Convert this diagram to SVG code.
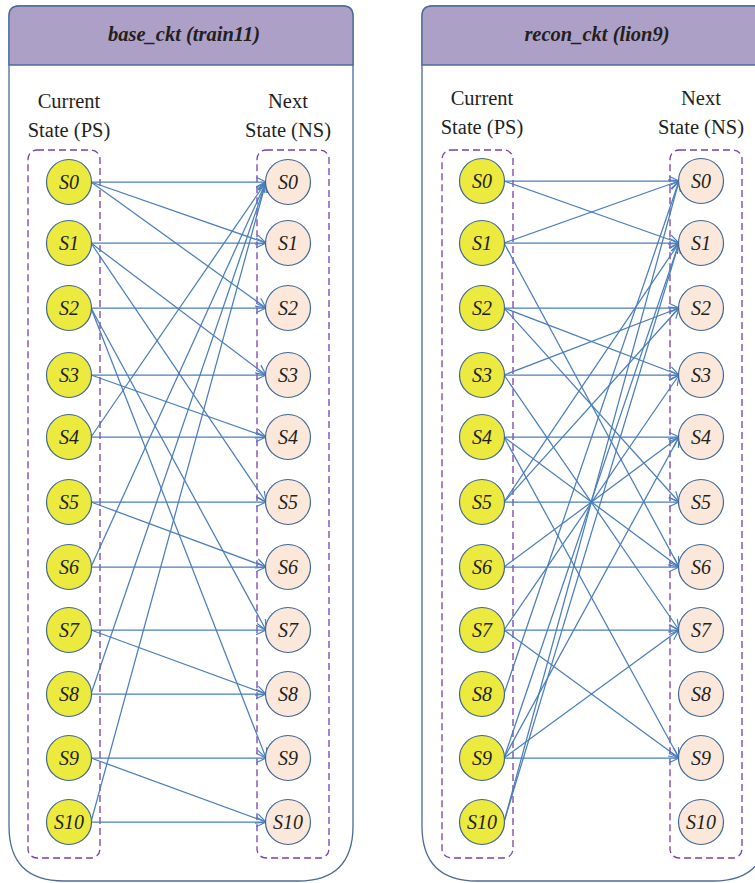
<svg xmlns="http://www.w3.org/2000/svg" width="755" height="883" viewBox="0 0 755 883">
  <style>
    .panel { fill: #ffffff; stroke: #4a6b9a; stroke-width: 1.3; }
    .header { fill: #ada0c6; stroke: #4a6b9a; stroke-width: 1.3; }
    .title { font-family: "Liberation Serif", serif; font-size: 20.5px; font-weight: bold; font-style: italic; fill: #231f20; text-anchor: middle; }
    .label { font-family: "Liberation Serif", serif; font-size: 20.5px; fill: #231f20; text-anchor: middle; }
    .group { fill: none; stroke: #7a3fa8; stroke-width: 1.3; stroke-dasharray: 7 4; }
    .ps { fill: #ece93f; stroke: #3f6794; stroke-width: 1.2; }
    .ns { fill: #fbe8da; stroke: #3f6794; stroke-width: 1.2; }
    .st { font-family: "Liberation Serif", serif; font-size: 20px; font-style: italic; fill: #231f20; text-anchor: middle; }
    .edge { stroke: #4a7ebb; stroke-width: 1.25; fill: none; marker-end: url(#arr); }
  </style>
  <defs>
    <marker id="arr" markerUnits="userSpaceOnUse" viewBox="-12 -7 14 14" markerWidth="14" markerHeight="14" refX="0" refY="0" orient="auto">
      <path d="M-10,-4.8 L0,0 L-10,4.8" fill="none" stroke="#4a7ebb" stroke-width="1.2"/>
    </marker>
  </defs>

  <!-- panel outlines -->
  <g id="panel-base">
    <path class="panel" d="M19,6 H343 Q353,6 353,16 V826 Q353,881 298,881 H64 Q9,881 9,826 V16 Q9,6 19,6 Z"/>
    <path class="header" d="M19,6 H343 Q353,6 353,16 V65 H9 V16 Q9,6 19,6 Z"/>
    <text class="title" x="184" y="41">base_ckt (train11)</text>
    <text class="label" x="69" y="108">Current</text>
    <text class="label" x="69" y="137">State (PS)</text>
    <text class="label" x="288" y="108">Next</text>
    <text class="label" x="288" y="137">State (NS)</text>
    <rect class="group" x="28" y="150" width="72" height="708" rx="9"/>
    <rect class="group" x="257" y="150" width="72" height="708" rx="9"/>
  </g>
  <g id="panel-recon">
    <path class="panel" d="M432,6 H758 Q768,6 768,16 V826 Q768,881 713,881 H477 Q422,881 422,826 V16 Q422,6 432,6 Z"/>
    <path class="header" d="M432,6 H758 Q768,6 768,16 V65 H422 V16 Q422,6 432,6 Z"/>
    <text class="title" x="597" y="41">recon_ckt (lion9)</text>
    <text class="label" x="482" y="105">Current</text>
    <text class="label" x="482" y="134">State (PS)</text>
    <text class="label" x="701" y="105">Next</text>
    <text class="label" x="701" y="134">State (NS)</text>
    <rect class="group" x="442" y="150" width="71" height="708" rx="9"/>
    <rect class="group" x="670" y="150" width="72" height="708" rx="9"/>
  </g>

  <!-- transitions: base_ckt -->
  <g id="edges-base">
    <line class="edge" x1="91" y1="182" x2="266" y2="182"/>
    <line class="edge" x1="91" y1="182" x2="266" y2="243"/>
    <line class="edge" x1="91" y1="182" x2="266" y2="308"/>
    <line class="edge" x1="91" y1="243" x2="266" y2="243"/>
    <line class="edge" x1="91" y1="243" x2="266" y2="375"/>
    <line class="edge" x1="91" y1="243" x2="266" y2="502"/>
    <line class="edge" x1="91" y1="308" x2="266" y2="308"/>
    <line class="edge" x1="91" y1="308" x2="266" y2="630"/>
    <line class="edge" x1="91" y1="308" x2="266" y2="758"/>
    <line class="edge" x1="91" y1="375" x2="266" y2="375"/>
    <line class="edge" x1="91" y1="375" x2="266" y2="437"/>
    <line class="edge" x1="91" y1="437" x2="266" y2="437"/>
    <line class="edge" x1="91" y1="437" x2="266" y2="182"/>
    <line class="edge" x1="91" y1="502" x2="266" y2="502"/>
    <line class="edge" x1="91" y1="502" x2="266" y2="567"/>
    <line class="edge" x1="91" y1="567" x2="266" y2="567"/>
    <line class="edge" x1="91" y1="567" x2="266" y2="182"/>
    <line class="edge" x1="91" y1="630" x2="266" y2="630"/>
    <line class="edge" x1="91" y1="630" x2="266" y2="694"/>
    <line class="edge" x1="91" y1="694" x2="266" y2="694"/>
    <line class="edge" x1="91" y1="694" x2="266" y2="182"/>
    <line class="edge" x1="91" y1="758" x2="266" y2="758"/>
    <line class="edge" x1="91" y1="758" x2="266" y2="822"/>
    <line class="edge" x1="91" y1="822" x2="266" y2="822"/>
    <line class="edge" x1="91" y1="822" x2="266" y2="182"/>
  </g>

  <!-- transitions: recon_ckt -->
  <g id="edges-recon">
    <line class="edge" x1="504" y1="181" x2="679" y2="181"/>
    <line class="edge" x1="504" y1="181" x2="679" y2="243"/>
    <line class="edge" x1="504" y1="243" x2="679" y2="181"/>
    <line class="edge" x1="504" y1="243" x2="679" y2="243"/>
    <line class="edge" x1="504" y1="243" x2="679" y2="567"/>
    <line class="edge" x1="504" y1="308" x2="679" y2="308"/>
    <line class="edge" x1="504" y1="308" x2="679" y2="375"/>
    <line class="edge" x1="504" y1="308" x2="679" y2="502"/>
    <line class="edge" x1="504" y1="375" x2="679" y2="308"/>
    <line class="edge" x1="504" y1="375" x2="679" y2="375"/>
    <line class="edge" x1="504" y1="375" x2="679" y2="630"/>
    <line class="edge" x1="504" y1="437" x2="679" y2="437"/>
    <line class="edge" x1="504" y1="437" x2="679" y2="567"/>
    <line class="edge" x1="504" y1="437" x2="679" y2="758"/>
    <line class="edge" x1="504" y1="502" x2="679" y2="502"/>
    <line class="edge" x1="504" y1="502" x2="679" y2="243"/>
    <line class="edge" x1="504" y1="502" x2="679" y2="308"/>
    <line class="edge" x1="504" y1="567" x2="679" y2="567"/>
    <line class="edge" x1="504" y1="567" x2="679" y2="437"/>
    <line class="edge" x1="504" y1="630" x2="679" y2="630"/>
    <line class="edge" x1="504" y1="630" x2="679" y2="375"/>
    <line class="edge" x1="504" y1="630" x2="679" y2="758"/>
    <line class="edge" x1="504" y1="694" x2="679" y2="181"/>
    <line class="edge" x1="504" y1="758" x2="679" y2="758"/>
    <line class="edge" x1="504" y1="758" x2="679" y2="630"/>
    <line class="edge" x1="504" y1="758" x2="679" y2="437"/>
    <line class="edge" x1="504" y1="758" x2="679" y2="243"/>
    <line class="edge" x1="504" y1="822" x2="679" y2="181"/>
    <line class="edge" x1="504" y1="822" x2="679" y2="243"/>
  </g>

  <!-- base_ckt present states -->
  <g id="b-ps0"><circle class="ps" cx="69" cy="182" r="22.5"/><text class="st" x="69" y="189">S0</text></g>
  <g id="b-ps1"><circle class="ps" cx="69" cy="243" r="22.5"/><text class="st" x="69" y="250">S1</text></g>
  <g id="b-ps2"><circle class="ps" cx="69" cy="308" r="22.5"/><text class="st" x="69" y="315">S2</text></g>
  <g id="b-ps3"><circle class="ps" cx="69" cy="375" r="22.5"/><text class="st" x="69" y="382">S3</text></g>
  <g id="b-ps4"><circle class="ps" cx="69" cy="437" r="22.5"/><text class="st" x="69" y="444">S4</text></g>
  <g id="b-ps5"><circle class="ps" cx="69" cy="502" r="22.5"/><text class="st" x="69" y="509">S5</text></g>
  <g id="b-ps6"><circle class="ps" cx="69" cy="567" r="22.5"/><text class="st" x="69" y="574">S6</text></g>
  <g id="b-ps7"><circle class="ps" cx="69" cy="630" r="22.5"/><text class="st" x="69" y="637">S7</text></g>
  <g id="b-ps8"><circle class="ps" cx="69" cy="694" r="22.5"/><text class="st" x="69" y="701">S8</text></g>
  <g id="b-ps9"><circle class="ps" cx="69" cy="758" r="22.5"/><text class="st" x="69" y="765">S9</text></g>
  <g id="b-ps10"><circle class="ps" cx="69" cy="822" r="22.5"/><text class="st" x="69" y="829">S10</text></g>
  <!-- base_ckt next states -->
  <g id="b-ns0"><circle class="ns" cx="288" cy="182" r="22.5"/><text class="st" x="288" y="189">S0</text></g>
  <g id="b-ns1"><circle class="ns" cx="288" cy="243" r="22.5"/><text class="st" x="288" y="250">S1</text></g>
  <g id="b-ns2"><circle class="ns" cx="288" cy="308" r="22.5"/><text class="st" x="288" y="315">S2</text></g>
  <g id="b-ns3"><circle class="ns" cx="288" cy="375" r="22.5"/><text class="st" x="288" y="382">S3</text></g>
  <g id="b-ns4"><circle class="ns" cx="288" cy="437" r="22.5"/><text class="st" x="288" y="444">S4</text></g>
  <g id="b-ns5"><circle class="ns" cx="288" cy="502" r="22.5"/><text class="st" x="288" y="509">S5</text></g>
  <g id="b-ns6"><circle class="ns" cx="288" cy="567" r="22.5"/><text class="st" x="288" y="574">S6</text></g>
  <g id="b-ns7"><circle class="ns" cx="288" cy="630" r="22.5"/><text class="st" x="288" y="637">S7</text></g>
  <g id="b-ns8"><circle class="ns" cx="288" cy="694" r="22.5"/><text class="st" x="288" y="701">S8</text></g>
  <g id="b-ns9"><circle class="ns" cx="288" cy="758" r="22.5"/><text class="st" x="288" y="765">S9</text></g>
  <g id="b-ns10"><circle class="ns" cx="288" cy="822" r="22.5"/><text class="st" x="288" y="829">S10</text></g>

  <!-- recon_ckt present states -->
  <g id="r-ps0"><circle class="ps" cx="482" cy="181" r="22.5"/><text class="st" x="482" y="188">S0</text></g>
  <g id="r-ps1"><circle class="ps" cx="482" cy="243" r="22.5"/><text class="st" x="482" y="250">S1</text></g>
  <g id="r-ps2"><circle class="ps" cx="482" cy="308" r="22.5"/><text class="st" x="482" y="315">S2</text></g>
  <g id="r-ps3"><circle class="ps" cx="482" cy="375" r="22.5"/><text class="st" x="482" y="382">S3</text></g>
  <g id="r-ps4"><circle class="ps" cx="482" cy="437" r="22.5"/><text class="st" x="482" y="444">S4</text></g>
  <g id="r-ps5"><circle class="ps" cx="482" cy="502" r="22.5"/><text class="st" x="482" y="509">S5</text></g>
  <g id="r-ps6"><circle class="ps" cx="482" cy="567" r="22.5"/><text class="st" x="482" y="574">S6</text></g>
  <g id="r-ps7"><circle class="ps" cx="482" cy="630" r="22.5"/><text class="st" x="482" y="637">S7</text></g>
  <g id="r-ps8"><circle class="ps" cx="482" cy="694" r="22.5"/><text class="st" x="482" y="701">S8</text></g>
  <g id="r-ps9"><circle class="ps" cx="482" cy="758" r="22.5"/><text class="st" x="482" y="765">S9</text></g>
  <g id="r-ps10"><circle class="ps" cx="482" cy="822" r="22.5"/><text class="st" x="482" y="829">S10</text></g>
  <!-- recon_ckt next states -->
  <g id="r-ns0"><circle class="ns" cx="701" cy="181" r="22.5"/><text class="st" x="701" y="188">S0</text></g>
  <g id="r-ns1"><circle class="ns" cx="701" cy="243" r="22.5"/><text class="st" x="701" y="250">S1</text></g>
  <g id="r-ns2"><circle class="ns" cx="701" cy="308" r="22.5"/><text class="st" x="701" y="315">S2</text></g>
  <g id="r-ns3"><circle class="ns" cx="701" cy="375" r="22.5"/><text class="st" x="701" y="382">S3</text></g>
  <g id="r-ns4"><circle class="ns" cx="701" cy="437" r="22.5"/><text class="st" x="701" y="444">S4</text></g>
  <g id="r-ns5"><circle class="ns" cx="701" cy="502" r="22.5"/><text class="st" x="701" y="509">S5</text></g>
  <g id="r-ns6"><circle class="ns" cx="701" cy="567" r="22.5"/><text class="st" x="701" y="574">S6</text></g>
  <g id="r-ns7"><circle class="ns" cx="701" cy="630" r="22.5"/><text class="st" x="701" y="637">S7</text></g>
  <g id="r-ns8"><circle class="ns" cx="701" cy="694" r="22.5"/><text class="st" x="701" y="701">S8</text></g>
  <g id="r-ns9"><circle class="ns" cx="701" cy="758" r="22.5"/><text class="st" x="701" y="765">S9</text></g>
  <g id="r-ns10"><circle class="ns" cx="701" cy="822" r="22.5"/><text class="st" x="701" y="829">S10</text></g>
</svg>
